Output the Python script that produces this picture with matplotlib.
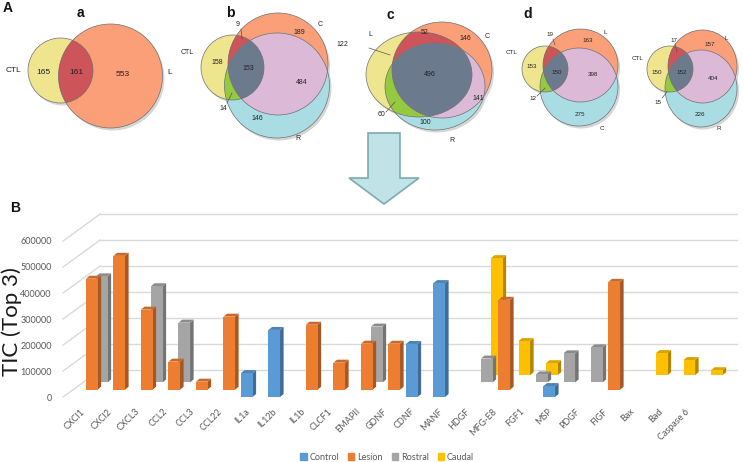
"""
Figure: Venn diagrams of detected proteins (A) and pseudo-3D bar chart of
top-3 TIC values per condition (B).
"""

import matplotlib
matplotlib.use("Agg")
import matplotlib.pyplot as plt
import numpy as np
from matplotlib.colors import to_rgb
from matplotlib.patches import Ellipse, Patch, Polygon

plt.rcParams["font.family"] = ["Lato", "DejaVu Sans"]

# ---------------------------------------------------------------- data (B)
CATEGORIES = ["CXCl1", "CXCl2", "CXCL3", "CCL2", "CCL3", "CCL22", "IL1a", "IL12b",
              "IL1b", "CLCF1", "EMAPII", "GDNF", "CDNF", "MANF", "HDGF", "MFG-E8",
              "FGF1", "MSP", "PDGF", "FIGF", "Bax", "Bad", "Caspase 6"]
SERIES = ["Control", "Lesion", "Rostral", "Caudal"]
COLORS = ["#5B9BD5", "#ED7D31", "#A5A5A5", "#FFC000"]

# 0 = not among the top 3
CONTROL = [0, 0, 0, 0, 0, 0, 92000, 258000, 0, 0, 0, 0, 204000, 438000,
           0, 0, 0, 42000, 0, 0, 0, 0, 0]
LESION = [427000, 515000, 308000, 108000, 31000, 281000, 0, 0, 250000, 104000,
          177000, 177000, 0, 0, 0, 346000, 0, 0, 0, 415000, 0, 0, 0]
ROSTRAL = [408000, 0, 370000, 230000, 0, 0, 0, 0, 0, 0, 215000, 0, 0, 0,
           92000, 0, 31000, 112000, 135000, 0, 0, 0, 0]
CAUDAL = [0, 0, 0, 0, 0, 0, 0, 0, 0, 0, 0, 0, 0, 0,
          450000, 131000, 46000, 0, 0, 0, 85000, 58000, 19000]
YTICKS = [0, 100000, 200000, 300000, 400000, 500000, 600000]

# ---------------------------------------------------------------- data (A)
A_SETS = ["CTL", "L"]
A_COUNTS = [165, 161, 553]
B_SETS = ["CTL", "C", "R"]
B_COUNTS = [9, 189, 122, 158, 153, 484, 14, 146]
C_SETS = ["L", "C", "R"]
C_COUNTS = [52, 146, 496, 141, 60, 100]
D1_SETS = ["CTL", "L", "C"]
D1_COUNTS = [19, 163, 153, 150, 398, 12, 275]
D2_SETS = ["CTL", "L", "R"]
D2_COUNTS = [17, 157, 150, 152, 404, 15, 226]

# ---------------------------------------------------------------- layout (pixels)
# ellipses (cx, cy, w, h) in figure pixels
A_SHAPES = [(60.5, 70.5, 65, 65), (110.5, 76, 104, 104)]
B_SHAPES = [(232.5, 67.5, 63, 65), (278, 64, 100, 102), (277, 85.5, 105, 105)]
C_SHAPES = [(419, 74.5, 106, 85), (442, 70, 100, 96), (435, 86.5, 100, 87)]
D1_SHAPES = [(545, 69, 46, 46), (580.5, 65.5, 75, 73), (579, 87, 78, 78)]
D2_SHAPES = [(670, 69, 46, 46), (702.5, 66.5, 69, 73), (701, 88.5, 72, 77)]

A_SET_POS = [(13, 71), (170, 73)]
A_POS = [(43, 73), (76, 73), (123, 75)]
B_SET_POS = [(187, 53), (320, 24), (298, 138)]
B_POS = [(238, 25), (299, 32), (342, 44), (217, 63), (248, 68), (302, 83), (223, 108), (257, 118)]
C_SET_POS = [(370, 35), (487, 36), (452, 141)]
C_POS = [(425, 33), (465, 39), (430, 75), (478, 98), (382, 114), (425, 123)]
D1_SET_POS = [(512, 53), (605, 33), (602, 129)]
D1_POS = [(550, 35), (588, 41), (532, 67), (557, 73), (593, 75), (533, 99), (580, 114)]
D2_SET_POS = [(638, 59), (726, 38), (719, 128)]
D2_POS = [(674, 40), (710, 44), (657, 72), (682, 73), (713, 79), (658, 102), (700, 115)]

POINTERS = [((241, 29), (242, 39)), ((227, 103), (232, 93)),
            ((369, 48), (390, 55)), ((386, 112), (395, 102)),
            ((553, 39), (555, 45)), ((537, 96), (545, 88)),
            ((675, 44), (677, 52)), ((662, 98), (667, 92))]

REGION_COLORS = {(0,): "#EFE58F", (1,): "#FB9F78", (2,): "#A9DDE3",
                 (0, 1): "#CD5459", (0, 2): "#94C940", (1, 2): "#DCB9D7",
                 (0, 1, 2): "#6B7B8D"}

VENN_FONT = "Liberation Sans"


def ellipse_poly(cx, cy, w, h, n=240):
    t = np.linspace(0, 2 * np.pi, n, endpoint=False)
    return np.column_stack([cx + w / 2 * np.cos(t), cy + h / 2 * np.sin(t)])


def clip_convex(subject, clipper):
    """Sutherland-Hodgman clipping of a polygon by a convex (ccw) polygon."""
    def cross(a, b, p):
        return (b[0] - a[0]) * (p[1] - a[1]) - (b[1] - a[1]) * (p[0] - a[0])

    def inter(s, e, a, b):
        cs, ce = cross(a, b, s), cross(a, b, e)
        return s + (e - s) * (cs / (cs - ce))

    out = [np.asarray(p) for p in subject]
    for k in range(len(clipper)):
        a, b = clipper[k - 1], clipper[k]
        inp, out = out, []
        if not inp:
            break
        s = inp[-1]
        for e in inp:
            if cross(a, b, e) >= 0:
                if cross(a, b, s) < 0:
                    out.append(inter(s, e, a, b))
                out.append(e)
            elif cross(a, b, s) >= 0:
                out.append(inter(s, e, a, b))
            s = e
    return np.array(out)


def draw_venn(ax, shapes, set_names, set_pos, counts, pos, fs):
    polys = [ellipse_poly(*s) for s in shapes]
    # soft drop shadow
    for cx, cy, w, h in shapes:
        ax.add_patch(Ellipse((cx + 2, cy + 2.5), w, h, color="#d6d6d6", lw=0, zorder=1))
    regions = [(i,) for i in range(len(polys))]
    if len(polys) == 3:
        regions += [(0, 1), (0, 2), (1, 2), (0, 1, 2)]
    else:
        regions += [(0, 1)]
    for reg in regions:
        poly = polys[reg[0]]
        for j in reg[1:]:
            poly = clip_convex(poly, polys[j])
        if len(poly) > 2:
            ax.add_patch(Polygon(poly, closed=True, facecolor=REGION_COLORS[reg],
                                 edgecolor="none", zorder=2))
    for cx, cy, w, h in shapes:
        ax.add_patch(Ellipse((cx, cy), w, h, fill=False, edgecolor="#707070", lw=0.5, zorder=3))
    for name, (x, y) in zip(set_names, set_pos):
        ax.text(x, y, name, fontsize=fs, ha="center", va="center", color="#222222",
                family=VENN_FONT, zorder=4)
    for n, (x, y) in zip(counts, pos):
        ax.text(x, y, str(n), fontsize=fs, ha="center", va="center", color="#222222",
                family=VENN_FONT, zorder=4)


def shade(color, f):
    return tuple(np.clip(np.array(to_rgb(color)) * f, 0, 1))


fig = plt.figure(figsize=(7.44, 4.62), dpi=100)

# ---------------------------------------------------------------- panel B: bars
ax = fig.add_axes([60 / 744, 62 / 462, 680 / 744, 200 / 462])
ax.set_xlim(-0.791, 23.936)
ax.set_ylim(-11538, 757692)

DX, DY = 0.364, 28000           # shift per depth row (series)
BACK_DX, BACK_DY = 1.347, 103600  # back wall offset
BAR_W = 0.42
SIDE_DX, SIDE_DY = 0.13, 11500  # bar thickness in depth

x_front = -0.68
x_back_right = 23.82
for v in YTICKS:
    ax.plot([x_front + BACK_DX, x_back_right], [v + BACK_DY] * 2, color="#D9D9D9", lw=1, zorder=0)
    ax.plot([x_front, x_front + BACK_DX], [v, v + BACK_DY], color="#D9D9D9", lw=1, zorder=0)

all_series = [CONTROL, LESION, ROSTRAL, CAUDAL]
for s in reversed(range(len(all_series))):
    col = COLORS[s]
    base = s * DY
    for i, v in enumerate(all_series[s]):
        if not v:
            continue
        x0 = i + s * DX - BAR_W / 2
        x1 = x0 + BAR_W
        ax.fill([x1, x1 + SIDE_DX, x1 + SIDE_DX, x1],
                [base, base + SIDE_DY, base + v + SIDE_DY, base + v],
                color=shade(col, 0.7), lw=0, zorder=2)
        ax.fill([x0, x1, x1 + SIDE_DX, x0 + SIDE_DX],
                [base + v, base + v, base + v + SIDE_DY, base + v + SIDE_DY],
                color=shade(col, 0.85), lw=0, zorder=2)
        ax.bar(x0, v, width=BAR_W, bottom=base, align="edge", color=col, lw=0, zorder=2)

for sp in ax.spines.values():
    sp.set_visible(False)
ax.set_yticks(YTICKS, [str(v) for v in YTICKS])
ax.tick_params(axis="y", length=0, pad=6, labelsize=6.5, labelcolor="#595959")
ax.set_xticks(np.arange(len(CATEGORIES)) - 0.06, CATEGORIES)
ax.tick_params(axis="x", length=0, pad=5, labelsize=6.5, labelcolor="#595959")
for lab in ax.get_xticklabels():
    lab.set_rotation(45)
    lab.set_ha("right")
    lab.set_rotation_mode("anchor")

fig.text(12 / 744, 1 - 322 / 462, "TIC (Top 3)", rotation=90, fontsize=16,
         ha="center", va="center", color="#1a1a1a")

handles = [Patch(color=c, label=n) for c, n in zip(COLORS, SERIES)]
fig.legend(handles=handles, loc="center", bbox_to_anchor=(387 / 744, 1 - 457 / 462),
           ncol=4, frameon=False, fontsize=6.5, labelcolor="#595959",
           handlelength=0.7, handleheight=0.7, handletextpad=0.3, columnspacing=1.0)

# ---------------------------------------------------------------- panel A: Venns + arrow
top = fig.add_axes([0, 0, 1, 1], zorder=3)
top.set_xlim(0, 744)
top.set_ylim(462, 0)
top.axis("off")
top.patch.set_alpha(0)

draw_venn(top, A_SHAPES, A_SETS, A_SET_POS, A_COUNTS, A_POS, 6)
draw_venn(top, B_SHAPES, B_SETS, B_SET_POS, B_COUNTS, B_POS, 5)
draw_venn(top, C_SHAPES, C_SETS, C_SET_POS, C_COUNTS, C_POS, 5)
draw_venn(top, D1_SHAPES, D1_SETS, D1_SET_POS, D1_COUNTS, D1_POS, 4.5)
draw_venn(top, D2_SHAPES, D2_SETS, D2_SET_POS, D2_COUNTS, D2_POS, 4.5)
for (xa, ya), (xb, yb) in POINTERS:
    top.plot([xa, xb], [ya, yb], color="#555555", lw=0.5, zorder=4)

for lab, x, y, fs in [("A", 8, 8, 10), ("a", 80, 13, 10), ("b", 230, 13, 10),
                      ("c", 390, 15, 10), ("d", 528, 14, 10), ("B", 15, 208, 10)]:
    top.text(x, y, lab, fontsize=fs, fontweight="bold", ha="center", va="center",
             family=VENN_FONT, color="#111111")

# big down arrow between panels
acx, shaft_hw, head_hw = 384, 16, 35
shaft_top, head_top, tip = 133, 178, 204
arrow = [(acx - shaft_hw, shaft_top), (acx + shaft_hw, shaft_top), (acx + shaft_hw, head_top),
         (acx + head_hw, head_top), (acx, tip), (acx - head_hw, head_top),
         (acx - shaft_hw, head_top)]
top.add_patch(Polygon(arrow, closed=True, facecolor="#BFE3E6", edgecolor="#7FAAB0",
                      lw=1.2, zorder=2))

fig.savefig("out.png", dpi=100)
